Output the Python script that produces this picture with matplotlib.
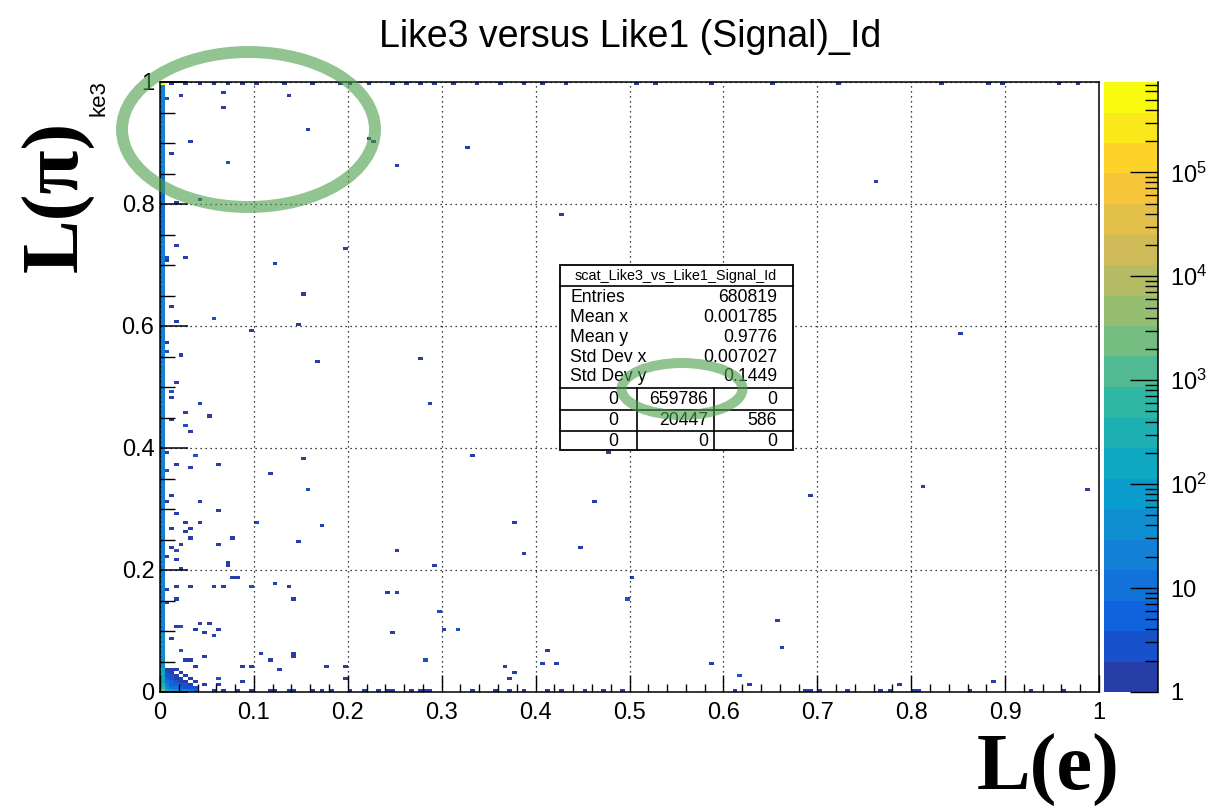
import numpy as np
import matplotlib
matplotlib.use('Agg')
import matplotlib.pyplot as plt
from matplotlib.colors import LinearSegmentedColormap, ListedColormap, LogNorm
from matplotlib.patches import Ellipse, Rectangle
from matplotlib.lines import Line2D
from matplotlib.ticker import MultipleLocator, LogLocator, NullFormatter, FuncFormatter

plt.rcParams['font.family'] = ['Liberation Sans', 'DejaVu Sans']
plt.rcParams['mathtext.fontset'] = 'custom'
plt.rcParams['mathtext.rm'] = 'Liberation Sans'
plt.rcParams['mathtext.default'] = 'regular'

W, H = 1230, 810

title = "Like3 versus Like1 (Signal)_Id"

# isolated bins (Like1, Like3, entries)
upper_spots = [
    (0.021, 0.978, 1), (0.065, 0.980, 1), (0.065, 0.957, 1), (0.135, 0.978, 1),
    (0.007, 0.970, 3), (0.155, 0.922, 1), (0.032, 0.902, 1), (0.012, 0.884, 1),
    (0.072, 0.867, 2), (0.224, 0.905, 1), (0.229, 0.900, 1), (0.251, 0.863, 1),
    (0.329, 0.890, 1), (0.043, 0.807, 1), (0.018, 0.800, 1), (0.425, 0.784, 1),
    (0.016, 0.734, 1), (0.008, 0.714, 3), (0.008, 0.707, 1), (0.029, 0.710, 1),
    (0.121, 0.704, 1), (0.195, 0.725, 1), (0.151, 0.651, 1), (0.012, 0.633, 1),
    (0.059, 0.614, 2), (0.016, 0.605, 1), (0.147, 0.600, 1), (0.095, 0.592, 1),
    (0.008, 0.574, 1), (0.008, 0.557, 2), (0.021, 0.554, 1), (0.165, 0.543, 1),
    (0.276, 0.545, 1), (0.019, 0.507, 1), (0.762, 0.837, 1), (0.852, 0.588, 1),
]
middle_spots = [
    (0.011, 0.490, 3), (0.011, 0.482, 1), (0.042, 0.472, 1), (0.025, 0.457, 1),
    (0.051, 0.454, 1), (0.025, 0.435, 3), (0.034, 0.427, 1), (0.011, 0.446, 1),
    (0.289, 0.475, 1), (0.008, 0.394, 1), (0.038, 0.385, 3), (0.015, 0.371, 1),
    (0.034, 0.368, 1), (0.061, 0.371, 1), (0.008, 0.360, 3), (0.151, 0.380, 1),
    (0.119, 0.357, 1), (0.159, 0.334, 3), (0.332, 0.385, 1), (0.478, 0.392, 1),
    (0.012, 0.321, 1), (0.008, 0.312, 1), (0.042, 0.312, 1), (0.061, 0.297, 1),
    (0.015, 0.293, 1), (0.029, 0.279, 1), (0.042, 0.279, 1), (0.101, 0.279, 2),
    (0.034, 0.268, 1), (0.012, 0.268, 1), (0.029, 0.263, 1), (0.032, 0.254, 1),
    (0.075, 0.254, 1), (0.172, 0.274, 1), (0.462, 0.312, 1), (0.379, 0.277, 1),
    (0.021, 0.242, 1), (0.061, 0.242, 1), (0.012, 0.239, 1), (0.146, 0.245, 1),
    (0.015, 0.232, 3), (0.252, 0.232, 1), (0.388, 0.227, 1), (0.448, 0.238, 1),
    (0.008, 0.222, 1), (0.018, 0.215, 1), (0.021, 0.204, 1), (0.070, 0.207, 1),
    (0.072, 0.212, 1), (0.292, 0.208, 1), (0.692, 0.321, 1), (0.815, 0.339, 1),
    (0.985, 0.330, 1),
]
lower_spots = [
    (0.075, 0.189, 1), (0.083, 0.186, 1), (0.018, 0.172, 1), (0.034, 0.172, 1),
    (0.056, 0.172, 1), (0.068, 0.172, 1), (0.098, 0.172, 2), (0.122, 0.177, 1),
    (0.135, 0.174, 1), (0.008, 0.168, 1), (0.015, 0.154, 1), (0.141, 0.154, 1),
    (0.241, 0.162, 1), (0.252, 0.162, 1), (0.499, 0.154, 2), (0.502, 0.187, 1),
    (0.008, 0.145, 1), (0.295, 0.131, 3), (0.043, 0.111, 1), (0.051, 0.110, 1),
    (0.015, 0.107, 1), (0.021, 0.107, 2), (0.038, 0.100, 1), (0.061, 0.100, 1),
    (0.045, 0.095, 1), (0.059, 0.091, 1), (0.316, 0.104, 3), (0.302, 0.100, 1),
    (0.245, 0.095, 1), (0.012, 0.086, 1), (0.023, 0.068, 2), (0.048, 0.059, 1),
    (0.105, 0.062, 1), (0.144, 0.062, 1), (0.141, 0.059, 1), (0.285, 0.054, 3),
    (0.411, 0.065, 1), (0.408, 0.048, 1), (0.422, 0.048, 1), (0.029, 0.051, 1),
    (0.034, 0.051, 1), (0.038, 0.042, 1), (0.085, 0.044, 1), (0.095, 0.044, 1),
    (0.119, 0.051, 1), (0.128, 0.036, 1), (0.178, 0.044, 1), (0.195, 0.044, 1),
    (0.195, 0.024, 1), (0.366, 0.042, 1), (0.375, 0.032, 1), (0.371, 0.021, 1),
    (0.061, 0.021, 2), (0.064, 0.014, 1), (0.045, 0.014, 1), (0.088, 0.015, 1),
    (0.658, 0.115, 1), (0.661, 0.073, 1), (0.589, 0.047, 1), (0.616, 0.028, 3),
    (0.629, 0.013, 1), (0.788, 0.013, 1), (0.886, 0.015, 1),
]

# Like1 positions of single entries in the lowest and highest Like3 rows
floor_x = [0.037, 0.057, 0.069, 0.080, 0.098, 0.115, 0.122, 0.137, 0.144, 0.162,
           0.172, 0.181, 0.201, 0.218, 0.231, 0.240, 0.248, 0.266, 0.275, 0.280,
           0.289, 0.332, 0.359, 0.371, 0.389, 0.412, 0.428, 0.453, 0.474, 0.492,
           0.612, 0.685, 0.692, 0.701, 0.731, 0.765, 0.779, 0.803, 0.808, 0.864,
           0.928, 0.962]
roof_x = [0.012, 0.025, 0.040, 0.055, 0.070, 0.085, 0.100, 0.130, 0.160, 0.190,
          0.205, 0.220, 0.245, 0.260, 0.275, 0.290, 0.310, 0.335, 0.360, 0.385,
          0.410, 0.430, 0.509, 0.529, 0.586, 0.652, 0.722, 0.834, 0.882, 0.895,
          0.956, 0.978]

# entries in the Like1 = 0 column, per 0.05 slice of Like3 (bottom to top)
edge_counts = [40, 32, 28, 25, 24, 22, 20, 18, 18, 16,
               16, 16, 15, 15, 15, 14, 14, 15, 18, 22]

# dense block at the origin, rows = Like3 bins, columns = Like1 bins
corner_counts = [
    [3000, 120, 60, 40, 25, 15, 10, 6],
    [400, 30, 12, 8, 5, 3, 2, 2],
    [200, 15, 6, 4, 2, 2, 1, 0],
    [150, 8, 4, 2, 1, 1, 0, 1],
    [120, 5, 2, 1, 1, 0, 1, 0],
    [100, 3, 2, 1, 0, 1, 0, 0],
    [90, 2, 1, 0, 1, 0, 0, 0],
    [80, 1, 1, 1, 0, 0, 0, 0],
]
peak_count = 650000  # top-left bin

stats_rows = [("Entries", "680819"), ("Mean x", "0.001785"), ("Mean y", "0.9776"),
              ("Std Dev x", "0.007027"), ("Std Dev y", "0.1449")]
flow_table = [["0", "659786", "0"], ["0", "20447", "586"], ["0", "0", "0"]]

nbins = 200
bw = 1.0 / nbins
zmax = 7.4e5

# ---- fill the histogram ----
xs, ys, ws = [], [], []
for x, y, n in upper_spots + middle_spots + lower_spots:
    xs.append(x); ys.append(y); ws.append(n)
for x in floor_x:
    xs.append(x); ys.append(bw / 2); ws.append(1)
for x in roof_x:
    xs.append(x); ys.append(1 - bw / 2); ws.append(1)
for k, c in enumerate(edge_counts):
    for j in range(10):
        xs.append(bw / 2); ys.append((k * 10 + j + 0.5) * bw); ws.append(c)
for j, row in enumerate(corner_counts):
    for i, c in enumerate(row):
        if c:
            xs.append((i + 0.5) * bw); ys.append((j + 0.5) * bw); ws.append(c)
xs.append(bw / 2); ys.append(1 - bw / 2); ws.append(peak_count)

hist, xe, ye = np.histogram2d(xs, ys, bins=nbins, range=[[0, 1], [0, 1]], weights=ws)
hist = np.ma.masked_equal(hist.T, 0)

# ROOT kBird palette, 20 contour bands
stops = np.linspace(0, 1, 9)
red = [0.2082, 0.0592, 0.0780, 0.0232, 0.1802, 0.5301, 0.8186, 0.9956, 0.9764]
green = [0.1664, 0.3599, 0.5041, 0.6419, 0.7178, 0.7492, 0.7328, 0.7862, 0.9832]
blue = [0.5293, 0.8684, 0.8385, 0.7914, 0.6425, 0.4662, 0.3499, 0.1968, 0.0539]
bird = LinearSegmentedColormap.from_list('bird', list(zip(stops, zip(red, green, blue))))
bands = ListedColormap([bird((i + 0.99) / 20) for i in range(20)])

fig = plt.figure(figsize=(W / 100, H / 100), dpi=100)
fig.patch.set_facecolor('white')


def fx(px):
    return px / W


def fy(py):
    return 1 - py / H


ax = fig.add_axes([fx(160), fy(692), 939 / W, 610 / H])
mesh = ax.pcolormesh(xe, ye, hist, cmap=bands, norm=LogNorm(vmin=1, vmax=zmax),
                     edgecolors='none', zorder=1)
ax.set_xlim(0, 1)
ax.set_ylim(0, 1)
ax.xaxis.set_major_locator(MultipleLocator(0.1))
ax.xaxis.set_minor_locator(MultipleLocator(0.02))
ax.yaxis.set_major_locator(MultipleLocator(0.2))
ax.yaxis.set_minor_locator(MultipleLocator(0.05))
fmt = FuncFormatter(lambda v, p: '%g' % round(v, 3))
ax.xaxis.set_major_formatter(fmt)
ax.yaxis.set_major_formatter(fmt)
ax.tick_params(axis='x', which='major', direction='in', length=12, width=1, labelsize=17, pad=7)
ax.tick_params(axis='x', which='minor', direction='in', length=6, width=1)
ax.tick_params(axis='y', which='major', direction='in', length=20, width=1.1, labelsize=17, pad=4)
ax.tick_params(axis='y', which='minor', direction='in', length=11, width=1)
ax.grid(True, which='major', color='black', linestyle=(0, (1, 3)), linewidth=0.9)
ax.set_axisbelow(False)
for s in ax.spines.values():
    s.set_linewidth(1.1)

# palette axis
cax = fig.add_axes([fx(1104), fy(692), 54 / W, 610 / H])
cb = fig.colorbar(mesh, cax=cax)
cb.outline.set_visible(False)
cax.yaxis.set_ticks_position('right')
cax.set_yticks([1, 10, 1e2, 1e3, 1e4, 1e5])
cax.set_yticklabels(['1', '10', '$10^{2}$', '$10^{3}$', '$10^{4}$', '$10^{5}$'])
cax.yaxis.set_minor_locator(LogLocator(base=10, subs=np.arange(2, 10), numticks=30))
cax.yaxis.set_minor_formatter(NullFormatter())
cax.tick_params(which='major', direction='in', length=20, width=1, labelsize=17, pad=9)
cax.tick_params(which='minor', direction='in', length=9.5, width=1)
cax.add_line(Line2D([1, 1], [0, 1], transform=cax.transAxes, color='black', lw=1.1, clip_on=False))

fig.text(fx(630), fy(37), title, ha='center', va='center', fontsize=27)

# statistics box
bx0, bx1, by0, by1 = 560, 793, 265, 450
fig.patches.append(Rectangle((fx(bx0), fy(by1)), (bx1 - bx0) / W, (by1 - by0) / H,
                             transform=fig.transFigure, fc='white', ec='black', lw=1.3, zorder=2))
for yy in [286, 388, 410, 431]:
    fig.add_artist(Line2D([fx(bx0), fx(bx1)], [fy(yy), fy(yy)], color='black', lw=1.2, zorder=2.5))
for xx in [637, 714]:
    fig.add_artist(Line2D([fx(xx), fx(xx)], [fy(388), fy(450)], color='black', lw=1.2, zorder=2.5))
fig.text(fx(676), fy(276), "scat_Like3_vs_Like1_Signal_Id", ha='center', va='center', fontsize=10.4, zorder=3)
for k, (name, val) in enumerate(stats_rows):
    yy = fy(298 + k * 19.7)
    fig.text(fx(570), yy, name, ha='left', va='center', fontsize=12.7, zorder=3)
    fig.text(fx(777), yy, val, ha='right', va='center', fontsize=12.7, zorder=3)
for r, row in enumerate(flow_table):
    yy = fy(400 + r * 20.7)
    for c, val in enumerate(row):
        fig.text(fx([618, 708, 777][c]), yy, val, ha='right', va='center', fontsize=12.7, zorder=3)

# y title stub peeking out above the big label
fig.text(fx(99), fy(80), "ke3", rotation=90, ha='center', va='top', fontsize=16, zorder=3)
fig.text(fx(58), fy(196), "L(π)", rotation=90, ha='center', va='center', fontsize=58,
         family='Liberation Serif', weight='bold', zorder=6)
fig.text(fx(1048), fy(770), "L(e)", ha='center', va='center', fontsize=58,
         family='Liberation Serif', weight='bold', zorder=6)

green_ring = '#4a9e4a'
fig.patches.append(Ellipse((fx(248.5), fy(129.5)), 253 / W, 155 / H, transform=fig.transFigure,
                           fill=False, ec=green_ring, lw=8.6, alpha=0.6, zorder=5))
fig.patches.append(Ellipse((fx(682), fy(389)), 121 / W, 52 / H, transform=fig.transFigure,
                           fill=False, ec=green_ring, lw=7.2, alpha=0.6, zorder=5))

fig.savefig('out.png', dpi=100)
